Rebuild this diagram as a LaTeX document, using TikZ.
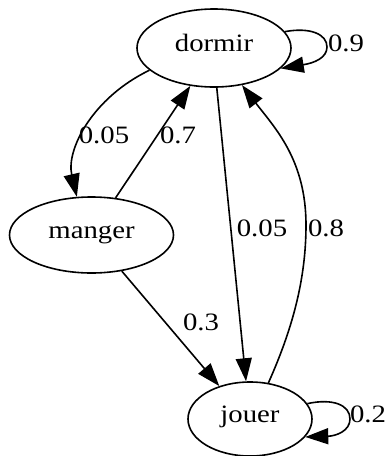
\documentclass[tikz,border=0pt]{standalone}
\usepackage{fontspec}
\setmainfont[FakeStretch=1.15]{Liberation Serif}
\usetikzlibrary{arrows.meta,shapes.geometric}
\begin{document}
\begin{tikzpicture}[x=1pt,y=-1pt,
  state/.style={draw,ellipse,line width=1.6pt,inner sep=0pt,
    font=\fontsize{25}{29}\selectfont,text height=0.8em,text depth=0.13em},
  lbl/.style={inner sep=0pt,font=\fontsize{25}{29}\selectfont,text height=0.68em,text depth=0pt},
  edge/.style={line width=1.6pt,-{Triangle[length=23pt,width=16pt]}}]
\useasboundingbox (0,0) rectangle (386,456);
\node[state,minimum width=154pt,minimum height=78pt] (dormir) at (214,48) {dormir};
\node[state,minimum width=164pt,minimum height=76pt] (manger) at (91.5,235) {manger};
\node[state,minimum width=124pt,minimum height=74pt] (jouer) at (250,419) {jouer};
% dormir -> manger
\draw[edge] (dormir.199) .. controls (92,98) and (66,150) .. (manger.111);
\node[lbl] (l1) at (104,140) {0.05};
% manger -> dormir
\draw[edge] (manger.57) -- (dormir.238);
\node[lbl] (l2) at (178,140) {0.7};
% dormir self loop
\draw[edge] (dormir.13) .. controls (310,27) and (327,34) .. (327,47)
  .. controls (327,58) and (314,63) .. (dormir.343);
\node[lbl] (l3) at (346,48) {0.9};
% dormir -> jouer
\draw[edge] (dormir.274) -- (jouer.96);
\node[lbl] (l4) at (262,233) {0.05};
% jouer -> dormir
\draw[edge] (jouer.63) .. controls (292,330) and (306,280) .. (306,225)
  .. controls (306,160) and (275,128) .. (dormir.307);
\node[lbl] (l5) at (326,233) {0.8};
% manger -> jouer
\draw[edge] (manger.310) -- (jouer.133);
\node[lbl] (l6) at (201,327) {0.3};
% jouer self loop
\draw[edge] (jouer.15) .. controls (333,398) and (350,405) .. (350,419)
  .. controls (350,431) and (336,436) .. (jouer.342);
\node[lbl] (l7) at (368,419) {0.2};
\end{tikzpicture}
\end{document}
